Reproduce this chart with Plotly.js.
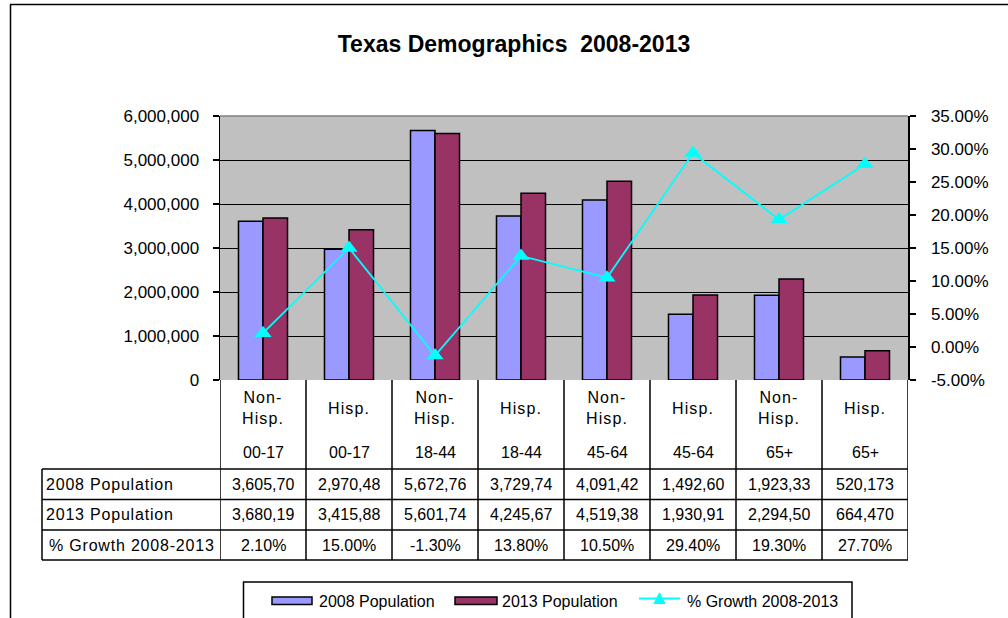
<!DOCTYPE html>
<html>
<head>
<meta charset="utf-8">
<script src="https://cdn.plot.ly/plotly-3.0.1.min.js"></script>
<style>
  html, body { margin: 0; padding: 0; background: #ffffff; overflow: hidden; }
  #chart { width: 1008px; height: 618px; }
</style>
</head>
<body>
<div id="chart"></div>
<script>
// Texas population by age band and ethnicity, 2008 vs 2013
const groups = ["Non-<br>Hisp.", "Hisp.", "Non-<br>Hisp.", "Hisp.", "Non-<br>Hisp.", "Hisp.", "Non-<br>Hisp.", "Hisp."];
const ages = ["00-17", "00-17", "18-44", "18-44", "45-64", "45-64", "65+", "65+"];
const pop2008 = [3605700, 2970480, 5672760, 3729740, 4091420, 1492600, 1923330, 520173];
const pop2013 = [3680190, 3415880, 5601740, 4245670, 4519380, 1930910, 2294500, 664470];
const growth = [0.021, 0.150, -0.013, 0.138, 0.105, 0.294, 0.193, 0.277];
const rowNames = ["2008 Population", "2013 Population", "% Growth 2008-2013"];
const seriesNames = ["2008 Population", "2013 Population", "% Growth 2008-2013"];
const colors = ["#9999FF", "#993366", "#00FFFF"];
const pctTicks = [-0.05, 0, 0.05, 0.10, 0.15, 0.20, 0.25, 0.30, 0.35];

const W = 1008, H = 618;
const M = { l: 220, r: 100, t: 116, b: 238 };
const PW = W - M.l - M.r, PH = H - M.t - M.b;
const px = x => (x - M.l) / PW;          // pixel column -> paper x
const py = y => (H - M.b - y) / PH;      // pixel row -> paper y

const FONT = "Liberation Sans, Arial, sans-serif";
const keys = ages.map((a, i) => a + " " + i);   // one slot per column

// spreadsheet-style cell: numbers wider than the column get cut off
const cellText = s => s.length > 8 ? s.slice(0, 8) : s;
const fmtNum = v => cellText(v.toLocaleString("en-US"));
const fmtPct = v => (v * 100).toFixed(2) + "%";
const spaced = (t, s) => '<span style="letter-spacing:' + s + 'px">' + t + '</span>';

const traces = [
  {
    type: "bar", name: seriesNames[0], x: keys, y: pop2008,
    marker: { color: colors[0], line: { color: "#000000", width: 1.5 } },
    hoverinfo: "skip"
  },
  {
    type: "bar", name: seriesNames[1], x: keys, y: pop2013,
    marker: { color: colors[1], line: { color: "#000000", width: 1.5 } },
    hoverinfo: "skip"
  },
  {
    type: "scatter", mode: "lines+markers", name: seriesNames[2],
    x: keys, y: growth, yaxis: "y2",
    line: { color: colors[2], width: 1.8 },
    marker: { symbol: "triangle-up", size: 15, color: colors[2] },
    hoverinfo: "skip"
  }
];

// data table under the plot
const rowTop = [469, 499.5, 530], rowBot = 560, headTop = 380, leftCol = 42;
const shapes = [];
const annotations = [];
const lineStyle = { color: "#000000", width: 1.5 };

for (let i = 0; i <= keys.length; i++) {
  shapes.push({ type: "line", xref: "x", yref: "paper", x0: i - 0.5, x1: i - 0.5,
    y0: py(headTop), y1: py(rowBot), line: lineStyle });
}
shapes.push({ type: "line", xref: "paper", yref: "paper", x0: px(leftCol), x1: px(leftCol),
  y0: py(rowTop[0]), y1: py(rowBot), line: lineStyle });
rowTop.concat([rowBot]).forEach(y => {
  shapes.push({ type: "line", xref: "paper", yref: "paper", x0: px(leftCol), x1: 1,
    y0: py(y), y1: py(y), line: lineStyle });
});

// top edge of the plot area is drawn lighter than the gridlines
shapes.push({ type: "line", xref: "paper", yref: "paper", x0: 0, x1: 1, y0: 1, y1: 1,
  line: { color: "#808080", width: 1.5 }, layer: "above" });

// chart frame
shapes.push({ type: "line", xref: "paper", yref: "paper", x0: px(10), x1: px(1010),
  y0: py(4.5), y1: py(4.5), line: lineStyle });
shapes.push({ type: "line", xref: "paper", yref: "paper", x0: px(10.5), x1: px(10.5),
  y0: py(4.5), y1: py(620), line: lineStyle });

// legend box with its three keys
shapes.push({ type: "rect", xref: "paper", yref: "paper", x0: px(243.5), x1: px(852),
  y0: py(582), y1: py(625), line: lineStyle, fillcolor: "rgba(0,0,0,0)" });
const legFont = { family: FONT, size: 16, color: "#000000" };
const legKeys = [
  { x0: 272, x1: 312, tx: 317 },
  { x0: 455, x1: 497, tx: 500 },
  { x0: 639, x1: 680, tx: 685 }
];
legKeys.forEach((k, i) => {
  if (i < 2) {
    shapes.push({ type: "rect", xref: "paper", yref: "paper", x0: px(k.x0), x1: px(k.x1),
      y0: py(597), y1: py(604.5), fillcolor: colors[i], line: { color: "#000000", width: 1.5 } });
  } else {
    const cx = (k.x0 + k.x1) / 2, cy = 598.5;
    shapes.push({ type: "line", xref: "paper", yref: "paper", x0: px(k.x0), x1: px(k.x1),
      y0: py(cy), y1: py(cy), line: { color: colors[i], width: 1.8 } });
    shapes.push({ type: "path", xref: "paper", yref: "paper",
      path: "M " + px(cx - 5.5) + "," + py(cy + 5) + " L " + px(cx + 5.5) + "," + py(cy + 5) +
            " L " + px(cx) + "," + py(cy - 5.5) + " Z",
      fillcolor: colors[i], line: { color: colors[i], width: 1 } });
  }
  annotations.push({ xref: "paper", yref: "paper", x: px(k.tx), y: py(601),
    text: seriesNames[i], showarrow: false, font: legFont, xanchor: "left", yanchor: "middle" });
});

const cellFont = { family: FONT, size: 16, color: "#000000" };
keys.forEach((k, i) => {
  annotations.push({ xref: "x", yref: "paper", x: i, y: py(408), text: spaced(groups[i], 1.1),
    showarrow: false, font: cellFont, xanchor: "center", yanchor: "middle" });
  annotations.push({ xref: "x", yref: "paper", x: i, y: py(453), text: ages[i],
    showarrow: false, font: cellFont, xanchor: "center", yanchor: "middle" });
  const rows = [fmtNum(pop2008[i]), fmtNum(pop2013[i]), fmtPct(growth[i])];
  rows.forEach((t, r) => {
    annotations.push({ xref: "x", yref: "paper", x: i,
      y: py((rowTop[r] + (rowTop[r + 1] || rowBot)) / 2), text: t,
      showarrow: false, font: cellFont, xanchor: "center", yanchor: "middle" });
  });
});
rowNames.forEach((t, r) => {
  annotations.push({ xref: "paper", yref: "paper", x: px(r === 2 ? 47 : 44),
    y: py((rowTop[r] + (rowTop[r + 1] || rowBot)) / 2), text: spaced(t, 0.8),
    showarrow: false, font: cellFont, xanchor: "left", yanchor: "middle" });
});

const tickFont = { family: FONT, size: 17, color: "#000000" };
const layout = {
  width: W, height: H,
  margin: M,
  paper_bgcolor: "#ffffff",
  plot_bgcolor: "#C0C0C0",
  font: { family: FONT, color: "#000000" },
  title: {
    text: "<b>Texas Demographics  2008-2013</b>",
    font: { family: FONT, size: 23, color: "#000000" },
    x: 514 / W, xanchor: "center", y: 1 - 44 / H, yanchor: "middle", xref: "container", yref: "container"
  },
  barmode: "group",
  bargap: 0.43,
  bargroupgap: 0,
  showlegend: false,
  xaxis: {
    type: "category", range: [-0.5, keys.length - 0.5],
    showticklabels: false, ticks: "", showgrid: false, zeroline: false,
    showline: false, fixedrange: true
  },
  yaxis: {
    range: [0, 6000000], dtick: 1000000, tickformat: ",",
    showgrid: true, gridcolor: "#000000", gridwidth: 1,
    showline: true, linecolor: "#000000", linewidth: 1.5,
    ticks: "outside", ticklen: 6, tickwidth: 1.5, tickcolor: "#000000",
    ticklabelstandoff: 10, zeroline: false,
    tickfont: tickFont, fixedrange: true
  },
  yaxis2: {
    overlaying: "y", side: "right",
    range: [-0.05, 0.35],
    tickmode: "array", tickvals: pctTicks, ticktext: pctTicks.map(fmtPct),
    showgrid: false, zeroline: false,
    showline: true, linecolor: "#000000", linewidth: 1.5,
    ticks: "outside", ticklen: 6, tickwidth: 1.5, tickcolor: "#000000",
    ticklabelstandoff: 12,
    tickfont: tickFont, fixedrange: true
  },
  shapes: shapes,
  annotations: annotations
};

Plotly.newPlot("chart", traces, layout, { staticPlot: true, displayModeBar: false });
</script>
</body>
</html>
